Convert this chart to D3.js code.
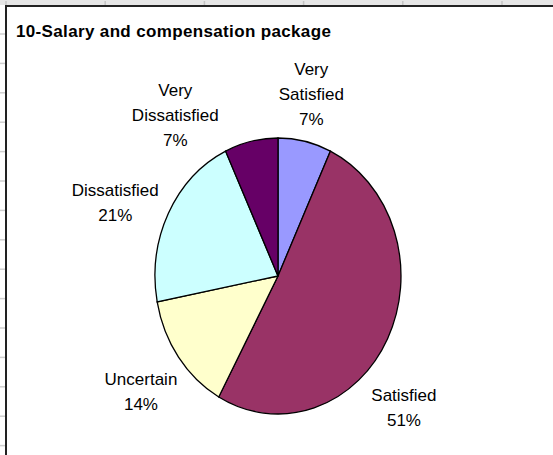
<!DOCTYPE html>
<html>
<head>
<meta charset="utf-8">
<script src="https://cdnjs.cloudflare.com/ajax/libs/d3/7.8.5/d3.min.js"></script>
<style>
  body { margin: 0; background: #fff; }
  svg { display: block; font-family: "Liberation Sans", Arial, sans-serif; }
</style>
</head>
<body>
<div id="chart"></div>
<script>
var width = 553, height = 455;

// data
var categories = ["Very Satisfied", "Satisfied", "Uncertain", "Dissatisfied", "Very Dissatisfied"];
var values = [7, 51, 14, 21, 7];
var labelLines = [["Very", "Satisfied"], ["Satisfied"], ["Uncertain"], ["Dissatisfied"], ["Very", "Dissatisfied"]];
var title = "10-Salary and compensation package";

// layout
var colours = ["#9999FF", "#993366", "#FFFFCC", "#CCFFFF", "#660066"];
var cx = 278, cy = 276, rx = 123, ry = 138;
// excel pushed some labels round the pie to keep them apart (degrees, radius factor)
var labelNudge = [[-1, 1.345], [16, 1.40], [-1, 1.395], [-5, 1.427], [-23, 1.434]];
var lineH = 25;

var svg = d3.select("#chart").append("svg")
  .attr("width", width)
  .attr("height", height);

// spreadsheet edge behind the chart
svg.append("rect").attr("x", 0).attr("y", 0).attr("width", width).attr("height", 5).attr("fill", "#e6e6e6");
d3.range(6, width, 99.2).forEach(function(x) {
  svg.append("line").attr("x1", x).attr("x2", x).attr("y1", 1).attr("y2", 5)
    .attr("stroke", "#c4c4c4").attr("stroke-width", 1.5);
});
d3.range(34, height, 29.4).forEach(function(y) {
  svg.append("line").attr("x1", 0).attr("x2", 5).attr("y1", y).attr("y2", y)
    .attr("stroke", "#cfcfcf").attr("stroke-width", 1.5);
});

// chart area frame
svg.append("rect").attr("x", 6).attr("y", 6).attr("width", width).attr("height", height)
  .attr("fill", "#fff").attr("stroke", "#222").attr("stroke-width", 2);

svg.append("text")
  .attr("x", 16).attr("y", 37)
  .attr("font-size", "17px").attr("font-weight", "bold").attr("fill", "#000")
  .attr("letter-spacing", "0.35px")
  .text(title);

var pie = d3.pie().sort(null).value(function(d) { return d; });
var arcs = pie(values);

var arc = d3.arc().innerRadius(0).outerRadius(rx);

var g = svg.append("g")
  .attr("transform", "translate(" + cx + "," + cy + ") scale(1," + (ry / rx) + ")");

g.selectAll("path.slice")
  .data(arcs)
  .enter()
  .append("path")
  .attr("class", "slice")
  .attr("d", arc)
  .attr("fill", function(d, i) { return colours[i]; })
  .attr("stroke", "#000")
  .attr("stroke-width", 1.3)
  .attr("vector-effect", "non-scaling-stroke");

var labels = svg.append("g").selectAll("text")
  .data(arcs)
  .enter()
  .append("text")
  .attr("text-anchor", "middle")
  .attr("font-size", "17px")
  .attr("fill", "#000")
  .each(function(d, i) {
    var a = (d.startAngle + d.endAngle) / 2 + labelNudge[i][0] * Math.PI / 180;
    var k = labelNudge[i][1];
    var x = cx + rx * k * Math.sin(a);
    var y = cy - ry * k * Math.cos(a);
    var lines = labelLines[i].concat([d3.format(".0f")(d.data) + "%"]);
    var t = d3.select(this);
    lines.forEach(function(s, j) {
      t.append("tspan")
        .attr("x", x)
        .attr("y", y + (j - (lines.length - 1) / 2) * lineH)
        .attr("dy", "0.36em")
        .text(s);
    });
  });
</script>
</body>
</html>
